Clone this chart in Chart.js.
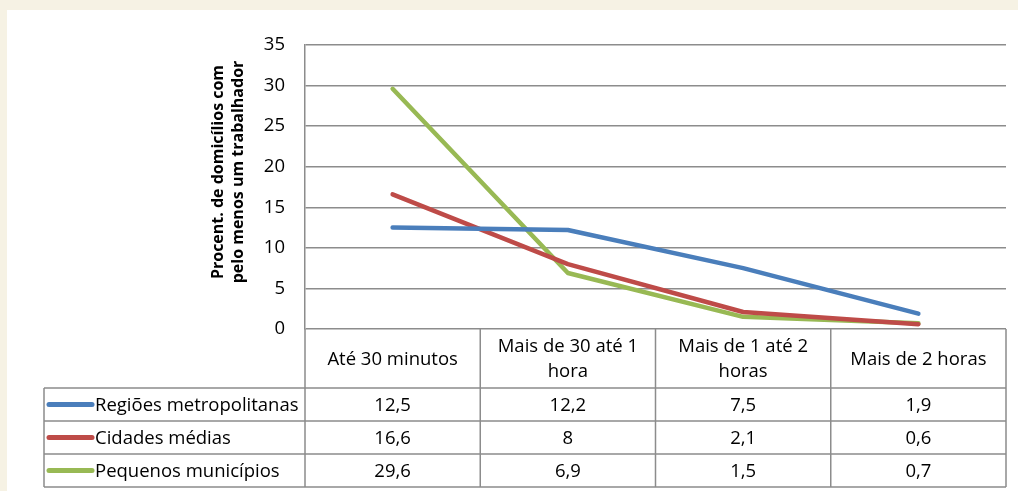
<!DOCTYPE html>
<html>
<head>
<meta charset="utf-8">
<script src="https://cdn.jsdelivr.net/npm/chart.js@4/dist/chart.umd.min.js"></script>
<style>
  html, body { margin: 0; padding: 0; background: #f6f2e4; overflow: hidden; }
  #c { display: block; }
</style>
</head>
<body>
<canvas id="c" width="1018" height="491"></canvas>
<script>
// Commute time bands (header of the data table under the plot)
const categories = [
  ['Até 30 minutos'],
  ['Mais de 30 até 1', 'hora'],
  ['Mais de 1 até 2', 'horas'],
  ['Mais de 2 horas']
];
const seriesNames = ['Regiões metropolitanas', 'Cidades médias', 'Pequenos municípios'];
const regioesMetropolitanas = [12.5, 12.2, 7.5, 1.9];
const cidadesMedias = [16.6, 8, 2.1, 0.6];
const pequenosMunicipios = [29.6, 6.9, 1.5, 0.7];
const yTicks = [0, 5, 10, 15, 20, 25, 30, 35];
const yTitle = ['Procent. de domicílios com', 'pelo menos um trabalhador'];

const seriesColors = ['#4a7ebb', '#be4b48', '#98b954'];
const gridColor = '#8c8c8c';
const FONT = '"Open Sans", "Noto Sans", sans-serif';
const TEXT_SIZE = 18.5;

// Beige frame with the white chart sheet on top
const sheetPlugin = {
  id: 'sheet',
  beforeDraw(chart) {
    const ctx = chart.ctx;
    ctx.save();
    ctx.fillStyle = '#f6f2e4';
    ctx.fillRect(0, 0, chart.width, chart.height);
    ctx.fillStyle = '#ffffff';
    ctx.fillRect(7, 10, chart.width - 7, chart.height - 10);
    ctx.restore();
  }
};

// Rotated two-line title of the value axis
const yTitlePlugin = {
  id: 'yTitle',
  afterDraw(chart) {
    const ctx = chart.ctx;
    ctx.save();
    ctx.translate(228, 172);
    ctx.rotate(-Math.PI / 2);
    ctx.fillStyle = '#000';
    ctx.font = 'bold 16px ' + FONT;
    ctx.textAlign = 'center';
    ctx.textBaseline = 'middle';
    ctx.fillText(yTitle[0], 0, -10);
    ctx.fillText(yTitle[1], 0, 10);
    ctx.restore();
  }
};

// Data table with legend keys, aligned to the category scale
const tablePlugin = {
  id: 'dataTable',
  afterDraw(chart) {
    const ctx = chart.ctx;
    const xs = chart.scales.x;
    const area = chart.chartArea;
    const n = categories.length;
    const step = (xs.right - xs.left) / n;
    const headTop = area.bottom;
    const headBottom = headTop + 59;
    const rowH = 33;
    const tableLeft = 44;
    const tableBottom = headBottom + rowH * seriesNames.length;

    ctx.save();
    ctx.strokeStyle = gridColor;
    ctx.lineWidth = 1.5;
    ctx.beginPath();
    for (let k = 0; k <= n; k++) {
      const xp = xs.left + k * step;
      ctx.moveTo(xp, headTop);
      ctx.lineTo(xp, tableBottom);
    }
    ctx.moveTo(tableLeft, headBottom);
    ctx.lineTo(tableLeft, tableBottom);
    for (let r = 0; r <= seriesNames.length; r++) {
      const yp = headBottom + r * rowH;
      ctx.moveTo(tableLeft, yp);
      ctx.lineTo(xs.right, yp);
    }
    ctx.stroke();

    ctx.fillStyle = '#000';
    ctx.font = TEXT_SIZE + 'px ' + FONT;
    ctx.textAlign = 'center';
    ctx.textBaseline = 'middle';
    const headMid = (headTop + headBottom) / 2 + 1;
    categories.forEach((lines, i) => {
      const cx = xs.getPixelForValue(i);
      const lh = 25;
      const y0 = headMid - (lines.length - 1) * lh / 2;
      lines.forEach((t, j) => ctx.fillText(t, cx, y0 + j * lh));
    });

    chart.data.datasets.forEach((ds, r) => {
      const cy = headBottom + r * rowH + rowH / 2 + 1;
      ctx.textAlign = 'center';
      ds.data.forEach((v, i) => {
        ctx.fillText(String(v).replace('.', ','), xs.getPixelForValue(i), cy);
      });
      ctx.strokeStyle = ds.borderColor;
      ctx.lineWidth = 5;
      ctx.lineCap = 'round';
      ctx.beginPath();
      ctx.moveTo(tableLeft + 5, cy - 1);
      ctx.lineTo(tableLeft + 48, cy - 1);
      ctx.stroke();
      ctx.textAlign = 'left';
      ctx.fillText(ds.label, tableLeft + 51, cy);
    });
    ctx.restore();
  }
};

const seriesValues = [regioesMetropolitanas, cidadesMedias, pequenosMunicipios];

new Chart(document.getElementById('c'), {
  type: 'line',
  data: {
    labels: categories,
    datasets: seriesNames.map((name, i) => ({
      label: name,
      data: seriesValues[i],
      borderColor: seriesColors[i],
      backgroundColor: seriesColors[i],
      borderWidth: 4.5,
      borderCapStyle: 'round',
      borderJoinStyle: 'round',
      pointRadius: 0,
      tension: 0,
      fill: false
    }))
  },
  options: {
    responsive: false,
    devicePixelRatio: 1,
    animation: false,
    layout: { padding: { top: 45, right: 12, bottom: 0, left: 0 } },
    plugins: {
      legend: { display: false },
      tooltip: { enabled: false },
      title: { display: false }
    },
    scales: {
      x: {
        type: 'category',
        offset: true,
        ticks: { display: false },
        grid: { display: false },
        border: { display: false },
        afterFit(scale) { scale.height = 162; }
      },
      y: {
        min: 0,
        max: 35,
        afterBuildTicks(scale) { scale.ticks = yTicks.map(v => ({ value: v })); },
        ticks: {
          color: '#000',
          font: { family: FONT, size: TEXT_SIZE },
          padding: 20
        },
        grid: { color: gridColor, lineWidth: 1.5, drawTicks: false },
        border: { display: true, color: gridColor, width: 1.5 },
        afterFit(scale) { scale.width = 305; }
      }
    }
  },
  plugins: [sheetPlugin, yTitlePlugin, tablePlugin]
});
</script>
</body>
</html>
